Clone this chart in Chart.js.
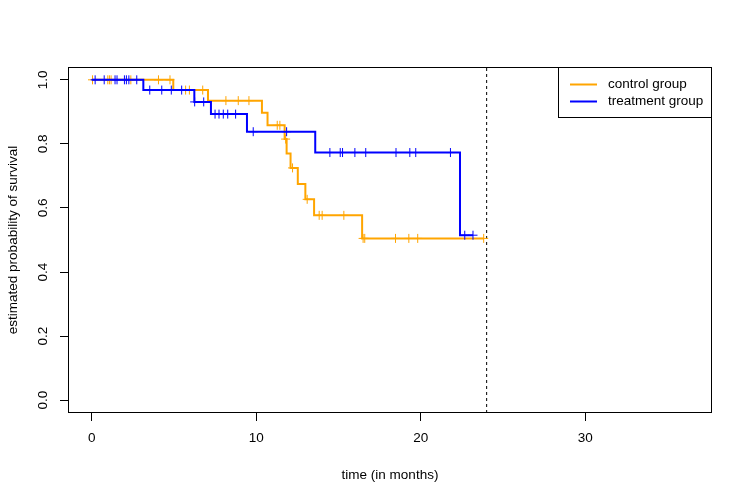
<!DOCTYPE html>
<html>
<head>
<meta charset="utf-8">
<script src="https://cdn.jsdelivr.net/npm/chart.js@4.4.1/dist/chart.umd.min.js"></script>
<style>
  html, body { margin: 0; padding: 0; background: #fff; }
</style>
</head>
<body>
<canvas id="kmChart" width="747" height="498"></canvas>
<script>
// Kaplan-Meier steps: time of each drop and survival right after it
// (first entry = start, last entry = last follow-up)
const controlTimes = [0, 4.95, 7.06, 10.34, 10.68, 11.72, 11.84, 12.08, 12.52, 12.98, 13.51, 16.43, 23.82];
const controlSurv  = [1.0, 0.968, 0.935, 0.897, 0.858, 0.815, 0.770, 0.725, 0.675, 0.627, 0.577, 0.505, 0.505];
const controlCensored = [0.04, 0.97, 1.07, 1.17, 2.37, 4.05, 4.75, 5.7, 5.93, 6.74, 8.15, 8.9, 9.55,
                         11.27, 11.43, 11.78, 12.2, 13.09, 13.82, 14.0, 15.32, 16.49, 16.59, 18.46, 19.27, 19.81, 23.82];

const treatmentTimes = [0, 3.13, 6.23, 7.24, 9.43, 13.58, 22.38, 23.17];
const treatmentSurv  = [1.0, 0.968, 0.931, 0.893, 0.838, 0.773, 0.515, 0.515];
const treatmentCensored = [0.2, 0.75, 1.41, 1.53, 1.98, 2.1, 2.25, 2.73, 3.52, 4.25, 4.83, 5.46, 6.25, 6.8,
                           7.49, 7.73, 7.99, 8.26, 8.74, 9.81, 11.84, 14.47, 15.1, 15.24, 15.99, 16.65,
                           18.49, 19.33, 19.69, 21.8, 22.67, 23.17];

const cutoffTime = 24;
const groupLabels = ['control group', 'treatment group'];
const groupColors = ['#FFA500', '#0000FF'];

const xTicks = [0, 10, 20, 30];
const yTicks = [0, 0.2, 0.4, 0.6, 0.8, 1.0];
const xMin = -1.45, xMax = 37.7;
const yMin = -0.04, yMax = 1.04;

const FONT = '"Liberation Sans", Arial, Helvetica, sans-serif';

function survAt(times, surv, t) {
    let s = surv[0];
    for (let i = 0; i < times.length; i++) {
        if (times[i] <= t) s = surv[i];
    }
    return s;
}

function curvePoints(times, surv) {
    return times.map((t, i) => ({x: t, y: surv[i]}));
}

function censorPoints(times, surv, cens) {
    return cens.map(t => ({x: t, y: survAt(times, surv, t)}));
}

// box around the plot + R style legend
const boxAndLegend = {
    id: 'boxAndLegend',
    afterDraw(chart) {
        const ctx = chart.ctx;
        const a = chart.chartArea;
        ctx.save();
        ctx.strokeStyle = '#000';
        ctx.lineWidth = 1;
        ctx.strokeRect(Math.round(a.left) + 0.5, Math.round(a.top) + 0.5,
                       Math.round(a.right - a.left) - 1, Math.round(a.bottom - a.top) - 1);

        const w = 154, h = 50;
        const lx = Math.round(a.right) - w;
        const ly = Math.round(a.top);
        ctx.fillStyle = '#fff';
        ctx.fillRect(lx + 0.5, ly + 0.5, w - 1, h);
        ctx.strokeRect(lx + 0.5, ly + 0.5, w - 1, h);

        ctx.font = '13.5px ' + FONT;
        ctx.textBaseline = 'middle';
        ctx.textAlign = 'left';
        groupLabels.forEach((label, i) => {
            const y = ly + 17.5 + i * 17;
            ctx.strokeStyle = groupColors[i];
            ctx.lineWidth = 2;
            ctx.beginPath();
            ctx.moveTo(lx + 12, y);
            ctx.lineTo(lx + 39, y);
            ctx.stroke();
            ctx.fillStyle = '#000';
            ctx.fillText(label, lx + 50, y);
        });
        ctx.restore();
    }
};

Chart.defaults.font.family = FONT;
Chart.defaults.font.size = 13.5;
Chart.defaults.color = '#000';

const ctx = document.getElementById('kmChart').getContext('2d');
new Chart(ctx, {
    type: 'scatter',
    data: {
        datasets: [
            {
                label: groupLabels[1],
                data: curvePoints(treatmentTimes, treatmentSurv),
                showLine: true,
                stepped: true,
                borderColor: groupColors[1],
                borderWidth: 2,
                pointRadius: 0,
                order: 0
            },
            {
                label: groupLabels[1] + ' censored',
                data: censorPoints(treatmentTimes, treatmentSurv, treatmentCensored),
                showLine: false,
                pointStyle: 'cross',
                pointRadius: 4.5,
                pointBorderWidth: 1,
                pointBorderColor: groupColors[1],
                pointBackgroundColor: groupColors[1],
                order: 1
            },
            {
                label: groupLabels[0],
                data: curvePoints(controlTimes, controlSurv),
                showLine: true,
                stepped: true,
                borderColor: groupColors[0],
                borderWidth: 2,
                pointRadius: 0,
                order: 2
            },
            {
                label: groupLabels[0] + ' censored',
                data: censorPoints(controlTimes, controlSurv, controlCensored),
                showLine: false,
                pointStyle: 'cross',
                pointRadius: 4.5,
                pointBorderWidth: 1,
                pointBorderColor: groupColors[0],
                pointBackgroundColor: groupColors[0],
                order: 3
            },
            {
                label: 'cutoff',
                data: [{x: cutoffTime, y: yMin}, {x: cutoffTime, y: yMax}],
                showLine: true,
                borderColor: '#000',
                borderWidth: 1,
                borderDash: [3, 3],
                pointRadius: 0,
                order: 4
            }
        ]
    },
    options: {
        responsive: false,
        devicePixelRatio: 1,
        animation: false,
        layout: {
            padding: {top: 67, right: 35, left: 0, bottom: 0}
        },
        plugins: {
            legend: {display: false},
            tooltip: {enabled: false}
        },
        scales: {
            x: {
                type: 'linear',
                min: xMin,
                max: xMax,
                afterBuildTicks: scale => { scale.ticks = xTicks.map(v => ({value: v})); },
                afterFit: scale => { scale.height = 85; },
                border: {display: false},
                grid: {drawOnChartArea: false, drawTicks: true, tickLength: 8, color: '#000', lineWidth: 1},
                ticks: {autoSkip: false, padding: 9, maxRotation: 0, callback: v => String(v)},
                title: {display: true, text: 'time (in months)', padding: {top: 0, bottom: 15}}
            },
            y: {
                type: 'linear',
                min: yMin,
                max: yMax,
                afterBuildTicks: scale => { scale.ticks = yTicks.map(v => ({value: v})); },
                afterFit: scale => { scale.width = 68; },
                border: {display: false},
                grid: {drawOnChartArea: false, drawTicks: true, tickLength: 8, color: '#000', lineWidth: 1},
                ticks: {autoSkip: false, padding: 7, minRotation: 90, maxRotation: 90,
                        crossAlign: 'center', callback: v => v.toFixed(1)},
                title: {display: true, text: 'estimated probability of survival', padding: {top: 5, bottom: 0}}
            }
        }
    },
    plugins: [boxAndLegend]
});
</script>
</body>
</html>
